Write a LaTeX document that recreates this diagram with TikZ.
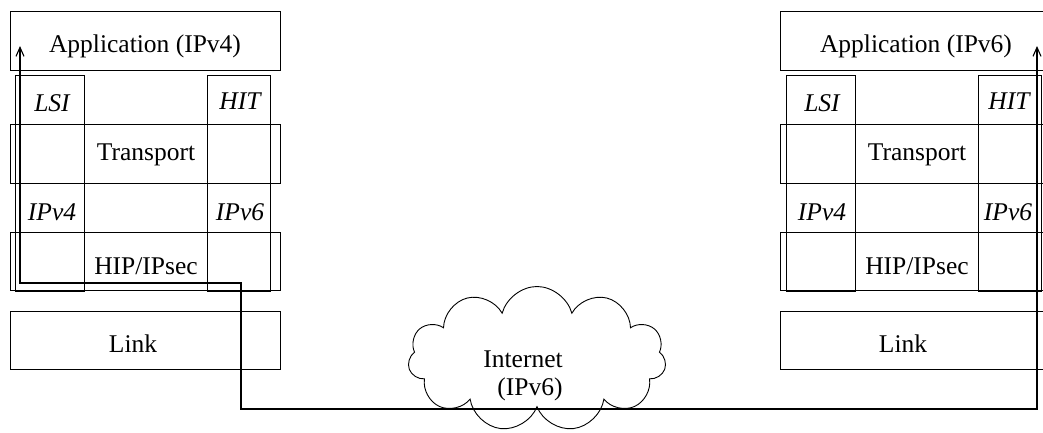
\documentclass[tikz,border=0pt]{standalone}
\usepackage{fontspec}
\setmainfont{Liberation Serif}
\usetikzlibrary{shapes.symbols,arrows.meta}
\begin{document}
\begin{tikzpicture}[x=1pt,y=-1pt,
  layerbox/.style={draw, line width=1pt, minimum width=270pt, minimum height=59pt, inner sep=0pt, anchor=north west},
  colbox/.style={draw, line width=1pt, minimum height=216pt, inner sep=0pt, anchor=north west},
  lbl/.style={font=\fontsize{25.5}{30}\selectfont, inner sep=0pt, yshift=-3pt},
  ilbl/.style={font=\fontsize{25.5}{30}\selectfont\itshape, inner sep=0pt, yshift=-3pt},
  flow/.style={line width=1.1pt, {Straight Barb[length=9pt,width=8pt]}-{Straight Barb[length=9pt,width=8pt]}}
]
\useasboundingbox (0,0) rectangle (1043,432);
\clip (0,0) rectangle (1043,432);
% left stack
\node[layerbox] (appL) at (10,11) {};
\node[colbox, minimum width=69pt] (lsiL) at (15,75) {};
\node[colbox, minimum width=63pt] (hitL) at (207,75) {};
\node[layerbox] (trL) at (10,124) {};
\node[layerbox, minimum height=58pt] (hipL) at (10,232) {};
\node[layerbox, minimum height=58pt] (linkL) at (10,311) {};
\node[lbl] (tappL) at (145,43) {Application (IPv4)};
\node[ilbl] (tlsiL) at (52,100) {LSI};
\node[ilbl] (thitL) at (240,98) {HIT};
\node[lbl] (ttrL) at (146,152) {Transport};
\node[ilbl] (tv4L) at (52,209) {IPv4};
\node[ilbl] (tv6L) at (240,209) {IPv6};
\node[lbl] (thipL) at (146,263) {HIP/IPsec};
\node[lbl] (tlinkL) at (133,341) {Link};
% right stack
\node[layerbox] (appR) at (780,11) {};
\node[colbox, minimum width=69pt] (lsiR) at (786,75) {};
\node[colbox, minimum width=63pt] (hitR) at (978,75) {};
\node[layerbox] (trR) at (780,124) {};
\node[layerbox, minimum height=58pt] (hipR) at (780,232) {};
\node[layerbox, minimum height=58pt] (linkR) at (780,311) {};
\node[lbl] (tappR) at (916,43) {Application (IPv6)};
\node[ilbl] (tlsiR) at (822,100) {LSI};
\node[ilbl] (thitR) at (1009,98) {HIT};
\node[lbl] (ttrR) at (917,152) {Transport};
\node[ilbl] (tv4R) at (822,209) {IPv4};
\node[ilbl] (tv6R) at (1008,209) {IPv6};
\node[lbl] (thipR) at (917,263) {HIP/IPsec};
\node[lbl] (tlinkR) at (903,341) {Link};
% cloud
\node[cloud, draw, line width=0.9pt, cloud puffs=11, cloud ignores aspect, minimum width=258pt, minimum height=145pt] (net) at (537,359) {};
\node[lbl] (tnet1) at (523,356) {Internet};
\node[lbl] (tnet2) at (530,386) {(IPv6)};
% path
\coordinate (a1) at (20,46);
\coordinate (a2) at (20,283);
\coordinate (a3) at (241,283);
\coordinate (a4) at (241,409);
\coordinate (a5) at (1037,409);
\coordinate (a6) at (1037,46);
\draw[flow] (a1) -- (a2) -- (a3) -- (a4) -- (a5) -- (a6);
\end{tikzpicture}
\end{document}
